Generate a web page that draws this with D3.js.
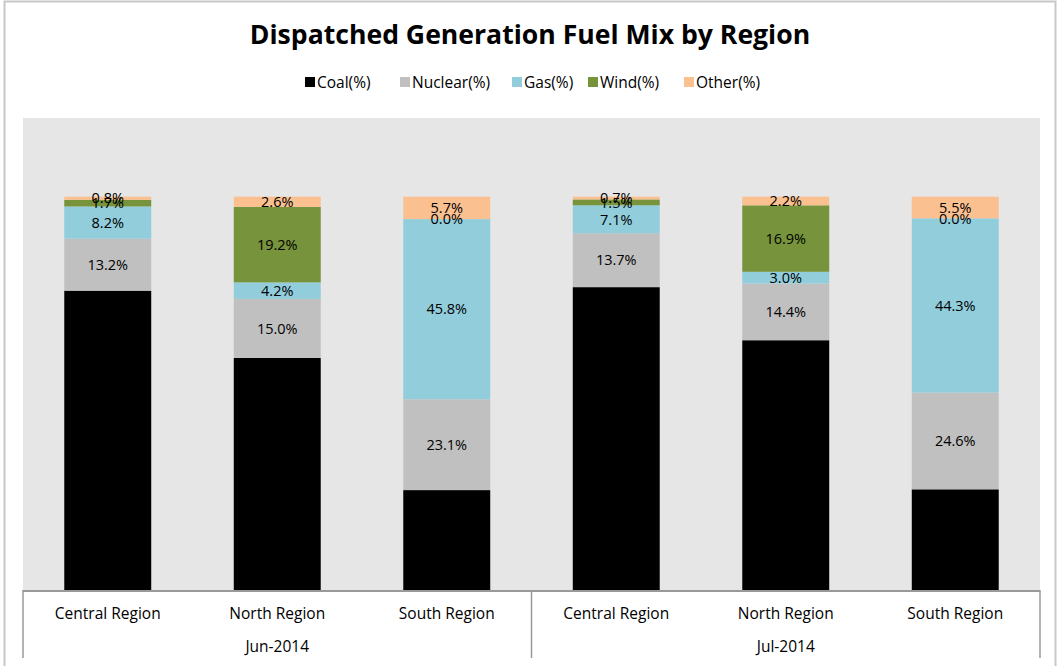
<!DOCTYPE html>
<html><head><meta charset="utf-8">
<script src="https://cdn.jsdelivr.net/npm/d3@7"></script>
<style>body{margin:0;background:#fff;} text{font-family:"Open Sans",sans-serif;}</style>
</head><body><svg id="c" width="1058" height="666"></svg>
<script>
const months = ["Jun-2014","Jul-2014"];
const regions = ["Central Region","North Region","South Region"];
const seriesNames = ["Coal(%)","Nuclear(%)","Gas(%)","Wind(%)","Other(%)"];
const colors = ["#000000","#c0c0c0","#92cddc","#77933c","#fac090"];
const coal    = [76.1, 59.0, 25.4, 77.0, 63.5, 25.6];
const nuclear = [13.2, 15.0, 23.1, 13.7, 14.4, 24.6];
const gas     = [8.2, 4.2, 45.8, 7.1, 3.0, 44.3];
const wind    = [1.7, 19.2, 0.0, 1.5, 16.9, 0.0];
const other   = [0.8, 2.6, 5.7, 0.7, 2.2, 5.5];
const yTicks  = [0, 20, 40, 60, 80, 100, 120];

const series = [coal, nuclear, gas, wind, other];
const cats = [];
months.forEach(m => regions.forEach(r => cats.push(m + "|" + r)));
const rows = cats.map((c, i) => {
  const o = {cat: c};
  seriesNames.forEach((s, j) => o[s] = series[j][i]);
  return o;
});

const svg = d3.select("#c");
svg.append("rect").attr("x",4.5).attr("y",1.5).attr("width",1051).attr("height",670)
  .attr("fill","#fff").attr("stroke","#c8c8c8").attr("stroke-width",2);

const L = 23, R = 1040, T = 118, B = 590;
const x = d3.scaleBand().domain(cats).range([L, R]).paddingInner(0.487).paddingOuter(0.2435);
const y = d3.scaleLinear().domain([0, d3.max(yTicks)]).range([B, T]);

svg.append("rect").attr("x",L).attr("y",T).attr("width",R-L).attr("height",B-T).attr("fill","#e6e6e6");

const stack = d3.stack().keys(seriesNames)(rows);
const g = svg.append("g");
stack.forEach((layer, j) => {
  g.selectAll(null).data(layer).join("rect")
    .attr("x", d => x(d.data.cat))
    .attr("width", x.bandwidth())
    .attr("y", d => y(d[1]))
    .attr("height", d => y(d[0]) - y(d[1]))
    .attr("fill", colors[j]);
});
stack.forEach((layer, j) => {
  g.selectAll(null).data(layer).join("text")
    .attr("x", d => x(d.data.cat) + x.bandwidth()/2)
    .attr("y", d => (y(d[0]) + y(d[1]))/2)
    .attr("dy","0.36em")
    .attr("text-anchor","middle")
    .attr("font-size",14.5)
    .attr("fill","#000")
    .text(d => d.data[seriesNames[j]].toFixed(1) + "%");
});

svg.append("line").attr("x1",L).attr("x2",R).attr("y1",B+1).attr("y2",B+1).attr("stroke","#999").attr("stroke-width",2);
const sepX = [L, (x(cats[2]) + x.bandwidth() + x(cats[3]))/2, R];
sepX.forEach(sx => svg.append("line").attr("x1",sx).attr("x2",sx).attr("y1",B).attr("y2",658).attr("stroke","#999").attr("stroke-width",1.5));

svg.selectAll(null).data(cats).join("text")
  .attr("x", d => x(d) + x.bandwidth()/2).attr("y", 619)
  .attr("text-anchor","middle").attr("font-size",15.5).attr("fill","#000")
  .text(d => d.split("|")[1]);
months.forEach((m, i) => {
  const c = cats[i*3+1];
  svg.append("text").attr("x", x(c) + x.bandwidth()/2).attr("y", 652)
    .attr("text-anchor","middle").attr("font-size",15.5).attr("fill","#000").text(m);
});

svg.append("text").attr("x",530).attr("y",44).attr("text-anchor","middle")
  .attr("font-size",26.6).attr("font-weight","bold").attr("fill","#000")
  .text("Dispatched Generation Fuel Mix by Region");

const legX = [305, 400, 512, 588, 684];
const lg = svg.append("g");
seriesNames.forEach((s, j) => {
  lg.append("rect").attr("x",legX[j]).attr("y",77).attr("width",10).attr("height",10).attr("fill",colors[j]);
  lg.append("text").attr("x",legX[j]+12).attr("y",88).attr("font-size",15.5).attr("fill","#000").text(s);
});
</script></body></html>
